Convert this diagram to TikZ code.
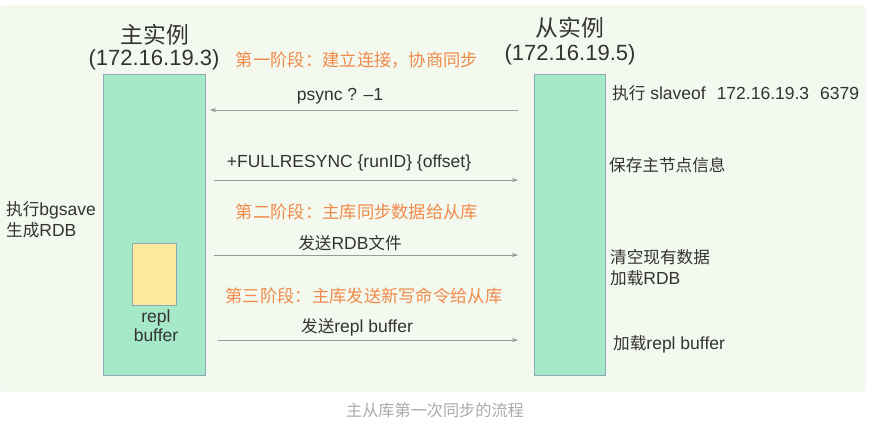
\documentclass[tikz,border=0pt]{standalone}
\usepackage{fontspec}
\setmainfont{Liberation Sans}
\newfontfamily\cjkfont[Scale=0.95]{Noto Sans CJK SC}
\newcommand{\zhtxt}[1]{{\cjkfont #1}}
\usetikzlibrary{arrows.meta}
\definecolor{bgc}{HTML}{F3F9EE}
\definecolor{boxfill}{HTML}{A6E9C9}
\definecolor{boxline}{HTML}{8AAAB8}
\definecolor{yel}{HTML}{FFE99A}
\definecolor{orng}{HTML}{F08A4B}
\definecolor{txt}{HTML}{333333}
\definecolor{arr}{HTML}{9A9A9A}
\definecolor{capc}{HTML}{AAAAAA}
\tikzset{
  inst/.style={draw=boxline, fill=boxfill, line width=1pt, inner sep=0pt},
  buf/.style={draw=boxline, fill=yel, line width=1pt, inner sep=0pt},
  title/.style={font=\fontsize{22}{26}\selectfont, text=txt, inner sep=0pt},
  ctitle/.style={font=\cjkfont\fontsize{24}{28}\selectfont, text=txt, inner sep=0pt},
  lbl/.style={font=\fontsize{17.5}{21}\selectfont, text=txt, inner sep=0pt},
  lbll/.style={lbl, anchor=west, align=left},
  phase/.style={font=\cjkfont\fontsize{18.2}{20}\selectfont, text=orng, inner sep=0pt},
  msg/.style={draw=arr, line width=0.7pt, -{Stealth[length=6pt,width=4pt]}},
}
\begin{document}
\begin{tikzpicture}[x=1pt,y=-1pt]
\useasboundingbox (0,0) rectangle (872,425);
\fill[bgc, rounded corners=4pt] (0,5) rectangle (866,392);
% instances
\node[inst, minimum width=102pt, minimum height=300pt] (master) at (154,225) {};
\node[inst, minimum width=71pt, minimum height=300pt] (slave) at (569.5,225) {};
\node[buf, minimum width=44pt, minimum height=62pt] (buf) at (154,274) {};
% titles
\node[ctitle] (mt1) at (155,35) {主实例};
\node[title] (mt2) at (154,60) {(172.16.19.3)};
\node[ctitle] (st1) at (570,28) {从实例};
\node[title] (st2) at (570,55) {(172.16.19.5)};
% phases
\node[phase] (p1) at (357,60) {第一阶段：建立连接，协商同步};
\node[phase] (p2) at (357,212) {第二阶段：主库同步数据给从库};
\node[phase] (p3) at (364,296) {第三阶段：主库发送新写命令给从库};
% messages
\coordinate (a1s) at (518,110); \coordinate (a1e) at (210,110);
\coordinate (a2s) at (214,180); \coordinate (a2e) at (518,180);
\coordinate (a3s) at (214,255); \coordinate (a3e) at (518,255);
\coordinate (a4s) at (218,340); \coordinate (a4e) at (518,340);
\draw[msg] (a1s) -- (a1e);
\draw[msg] (a2s) -- (a2e);
\draw[msg] (a3s) -- (a3e);
\draw[msg] (a4s) -- (a4e);
\node[lbl] (m1) at (340,96) {psync ? –1};
\node[lbl] (m2) at (349,163) {+FULLRESYNC \{runID\} \{offset\}};
\node[lbl] (m3) at (350,243) {\zhtxt{发送}RDB\zhtxt{文件}};
\node[lbl] (m4) at (357,327) {\zhtxt{发送}repl buffer};
% buffer label
\node[lbl, align=center, font=\fontsize{17.5}{19}\selectfont] (bl) at (156,326) {repl\\buffer};
% left notes
\node[lbll, font=\fontsize{17.5}{21}\selectfont] (ln) at (6,220) {\zhtxt{执行}bgsave\\\zhtxt{生成}RDB};
% right notes
\node[lbll] (r1) at (612,93) {\zhtxt{执行} slaveof\hspace{11pt}172.16.19.3\hspace{11pt}6379};
\node[lbll, font=\cjkfont\fontsize{17.5}{20}\selectfont] (r2) at (609,165) {保存主节点信息};
\node[lbll, font=\fontsize{17.5}{21}\selectfont] (r3) at (610,268) {\zhtxt{清空现有数据}\\\zhtxt{加载}RDB};
\node[lbll] (r4) at (613,344) {\zhtxt{加载}repl buffer};
% caption
\node[font=\cjkfont\fontsize{17}{19}\selectfont, text=capc, inner sep=0pt] (cap) at (435,410) {主从库第一次同步的流程};
\end{tikzpicture}
\end{document}
